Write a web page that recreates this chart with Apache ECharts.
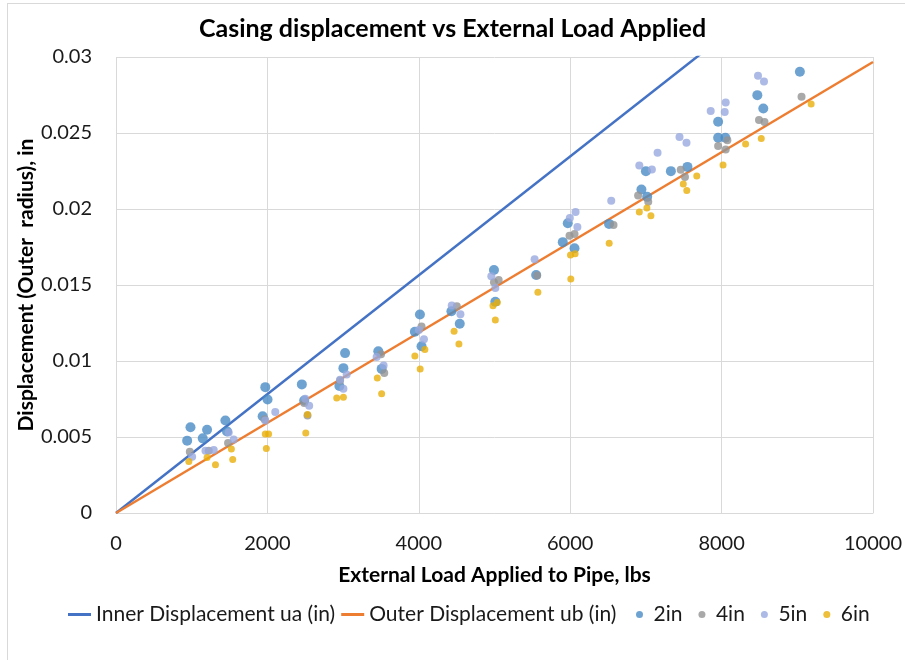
<!DOCTYPE html>
<html><head><meta charset="utf-8">
<script src="https://cdn.jsdelivr.net/npm/echarts@6/dist/echarts.min.js"></script>
<style>html,body{margin:0;padding:0;background:#fff;overflow:hidden}#c{width:905px;height:660px}
#b{position:absolute;left:7px;top:3px;width:2000px;height:2000px;border:1px solid #d9d9d9;pointer-events:none}</style>
</head><body><div id="c"></div><div id="b"></div>
<script>
const xTicks = [0, 2000, 4000, 6000, 8000, 10000];
const innerLine = [[0, 0], [10000, 0.0391]];
const outerLine = [[0, 0], [10000, 0.02967]];
const s2in = [[940,0.00476],[984,0.00564],[1146,0.00491],[1203,0.00548],[1445,0.00608],[1466,0.00537],[1972,0.00828],[2002,0.00747],[1937,0.00636],[2455,0.00846],[2486,0.0074],[2951,0.00835],[3026,0.01052],[3004,0.00953],[3465,0.01064],[3509,0.00948],[4015,0.01306],[4036,0.01097],[3948,0.01192],[4431,0.01327],[4541,0.01245],[4993,0.01599],[5011,0.0139],[5550,0.01566],[5902,0.01782],[5968,0.01906],[6057,0.01742],[6513,0.01902],[6941,0.02128],[7017,0.0208],[7000,0.02249],[7330,0.02249],[7549,0.02277],[7954,0.02574],[7954,0.02469],[8050,0.02469],[8472,0.02749],[8551,0.02661],[9034,0.02903]];
const s4in = [[975,0.00403],[1225,0.0041],[1480,0.00461],[1963,0.00617],[2486,0.00723],[2530,0.00641],[2960,0.00872],[3501,0.01044],[3544,0.00921],[4036,0.01227],[4502,0.01361],[4993,0.01518],[5055,0.01533],[5564,0.01563],[5991,0.01824],[6057,0.01835],[6572,0.01895],[6897,0.02089],[7031,0.02048],[7460,0.02258],[7516,0.0221],[7954,0.02414],[8076,0.02453],[8054,0.02392],[8494,0.02586],[8567,0.02573],[9056,0.02738]];
const s5in = [[1006,0.0037],[1182,0.0041],[1291,0.00414],[1489,0.00529],[1555,0.00483],[2104,0.00664],[1972,0.00608],[2500,0.00752],[2552,0.00706],[2960,0.00877],[3004,0.00818],[3047,0.00912],[3443,0.01026],[3535,0.00971],[4002,0.01204],[4068,0.01143],[4435,0.01365],[4550,0.01308],[4958,0.01557],[5011,0.0148],[5530,0.0167],[5995,0.0194],[6071,0.0198],[6095,0.01881],[6542,0.02055],[6913,0.02286],[7079,0.0226],[7154,0.0237],[7444,0.02473],[7536,0.02436],[7856,0.02645],[8041,0.02638],[8054,0.027],[8481,0.02876],[8560,0.02839]];
const s6in = [[962,0.00339],[1203,0.00365],[1314,0.00317],[1524,0.00421],[1542,0.00352],[1972,0.0052],[2016,0.0052],[1986,0.00425],[2507,0.00527],[2530,0.00648],[2916,0.00757],[3004,0.00762],[3452,0.00888],[3509,0.00785],[3948,0.01033],[4080,0.01076],[4018,0.00948],[4466,0.01196],[4530,0.01112],[4980,0.01363],[5037,0.01385],[5011,0.01269],[5573,0.01452],[6008,0.01539],[6004,0.01698],[6065,0.01705],[6515,0.01775],[6913,0.0198],[7013,0.02007],[7066,0.01956],[7494,0.02165],[7540,0.02121],[7672,0.02217],[8019,0.02289],[8317,0.02428],[8524,0.02463],[9183,0.0269]];

const FONT = 'Lato';
const TXT = '#1a1a1a';
const chart = echarts.init(document.getElementById('c'));
chart.setOption({
  animation: false,
  textStyle: {fontFamily: FONT},
  title: {text: 'Casing displacement vs External Load Applied', left: 'center', top: 11,
    textStyle: {fontFamily: FONT, fontSize: 25, fontWeight: 'bold', color: '#000'}},
  grid: {left: 116, right: 28, top: 57, bottom: 147},
  xAxis: {type: 'value', min: xTicks[0], max: xTicks[xTicks.length - 1], interval: 2000,
    name: 'External Load Applied to Pipe, lbs', nameLocation: 'middle', nameGap: 52,
    nameTextStyle: {fontFamily: FONT, fontSize: 21, fontWeight: 'bold', color: '#000'},
    axisLine: {show: true, lineStyle: {color: '#d9d9d9'}}, axisTick: {show: false},
    axisLabel: {fontSize: 20, color: TXT, margin: 21, formatter: v => String(v)},
    splitLine: {show: true, lineStyle: {color: '#d9d9d9'}}},
  yAxis: {type: 'value', min: 0, max: 0.03, interval: 0.005,
    name: 'Displacement (Outer  radius), in', nameLocation: 'middle', nameGap: 79,
    nameMoveOverlap: false,
    nameTextStyle: {fontFamily: FONT, fontSize: 21, fontWeight: 'bold', color: '#000'},
    axisLine: {show: false}, axisTick: {show: false},
    axisLabel: {fontSize: 20, color: TXT, margin: 24,
      formatter: v => v === 0 ? '0' : String(+v.toFixed(3))},
    splitLine: {show: true, lineStyle: {color: '#d9d9d9'}}},
  legend: [
    {data: ['Inner Displacement ua (in)', 'Outer Displacement ub (in)'], left: 63, top: 599,
     icon: 'rect', itemWidth: 23, itemHeight: 3, itemGap: 6,
     textStyle: {fontFamily: FONT, fontSize: 21, color: TXT}},
    {data: ['2in', '4in', '5in', '6in'], left: 631, top: 599,
     icon: 'circle', itemWidth: 18, itemHeight: 7, itemGap: 16,
     textStyle: {fontFamily: FONT, fontSize: 21, color: TXT}}
  ],
  series: [
    {name: 'Inner Displacement ua (in)', type: 'line', data: innerLine, showSymbol: false, clip: true,
     z: 1, lineStyle: {color: '#4472C4', width: 2.5}, itemStyle: {color: '#4472C4'}},
    {name: 'Outer Displacement ub (in)', type: 'line', data: outerLine, showSymbol: false, clip: true,
     z: 1, lineStyle: {color: '#ED7D31', width: 2.5}, itemStyle: {color: '#ED7D31'}},
    {name: '2in', type: 'scatter', data: s2in, symbolSize: 10, z: 3, itemStyle: {color: '#4A8CC6'}},
    {name: '4in', type: 'scatter', data: s4in, symbolSize: 8, z: 4, itemStyle: {color: '#939393'}},
    {name: '5in', type: 'scatter', data: s5in, symbolSize: 8, z: 5, itemStyle: {color: '#97A9DE'}},
    {name: '6in', type: 'scatter', data: s6in, symbolSize: 7, z: 6, itemStyle: {color: '#E8AF0A'}}
  ]
});
</script></body></html>
